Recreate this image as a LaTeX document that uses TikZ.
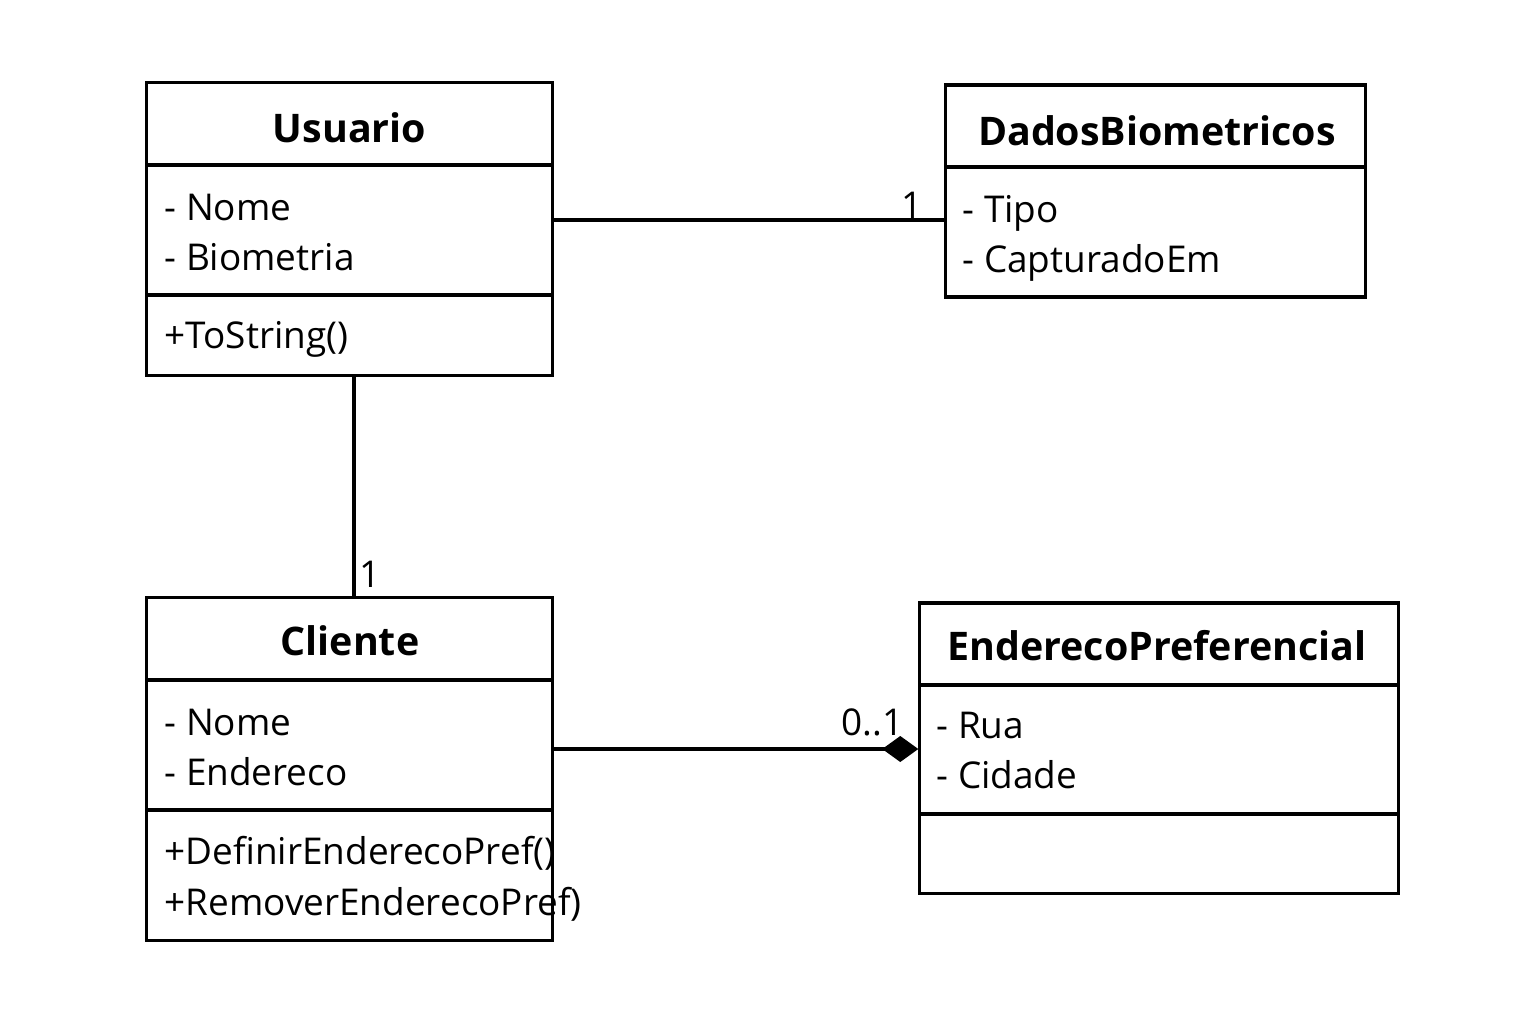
\documentclass[tikz,border=0pt]{standalone}
\usepackage{fontspec}
\setmainfont{Open Sans}
\usetikzlibrary{arrows.meta}

\begin{document}
\begin{tikzpicture}[x=0.01cm,y=-0.01cm,line width=0.9pt,
      every node/.style={inner sep=0pt,font=\fontsize{10.5}{12}\selectfont},
      cls/.style={draw,rectangle},
      hd/.style={anchor=base,font=\fontsize{11.2}{12}\selectfont\bfseries},
      mb/.style={anchor=base west},
      mult/.style={anchor=base east}]
      \useasboundingbox(0,0)rectangle(1536,1024);
      % classes
      \node[cls,minimum width=4.05cm,minimum height=2.92cm](usuario)at(349.5,229){};
      \node[cls,minimum width=4.19cm,minimum height=2.12cm](dados)at(1155.5,191){};
      \node[cls,minimum width=4.05cm,minimum height=3.42cm](cliente)at(349.5,769){};
      \node[cls,minimum width=4.78cm,minimum height=2.90cm](endereco)at(1159,748){};
      \draw(147,165)--(552,165)(147,295)--(552,295);
      \draw(946,167)--(1365,167);
      \draw(147,680)--(552,680)(147,810)--(552,810);
      \draw(920,685)--(1398,685)(920,814)--(1398,814);
      % texts
      \node[hd](usuarioT)at(349.5,142){Usuario};
      \node[mb](u1)at(163,220){- Nome};
      \node[mb](u2)at(163,270){- Biometria};
      \node[mb](u3)at(163,348){+ToString()};
      \node[hd](dadosT)at(1157,145){DadosBiometricos};
      \node[mb](d1)at(961,222){- Tipo};
      \node[mb](d2)at(961,272){- CapturadoEm};
      \node[hd](clienteT)at(350,655){Cliente};
      \node[mb](c1)at(163,735){- Nome};
      \node[mb](c2)at(163,785){- Endereco};
      \node[mb](c3)at(163,864){+DefinirEnderecoPref()};
      \node[mb](c4)at(163,915){+RemoverEnderecoPref)};
      \node[hd](enderecoT)at(1157,660){EnderecoPreferencial};
      \node[mb](e1)at(935,738){- Rua};
      \node[mb](e2)at(935,788){- Cidade};
      % associations
      \coordinate(ud)at(0,220);
      \coordinate(uc)at(354,0);
      \coordinate(ce)at(0,749);
      \draw(usuario.east|-ud)--(dados.west|-ud);
      \draw(usuario.south-|uc)--(cliente.north-|uc);
      \draw[-{Diamond[length=0.36cm,width=0.26cm]}](cliente.east|-ce)--(endereco.west|-ce);
      \node[mult](m1)at(924,218){1};
      \node[mult](m2)at(382,587){1};
      \node[mult](m3)at(905,735){0..1};
   \end{tikzpicture}
\end{document}
